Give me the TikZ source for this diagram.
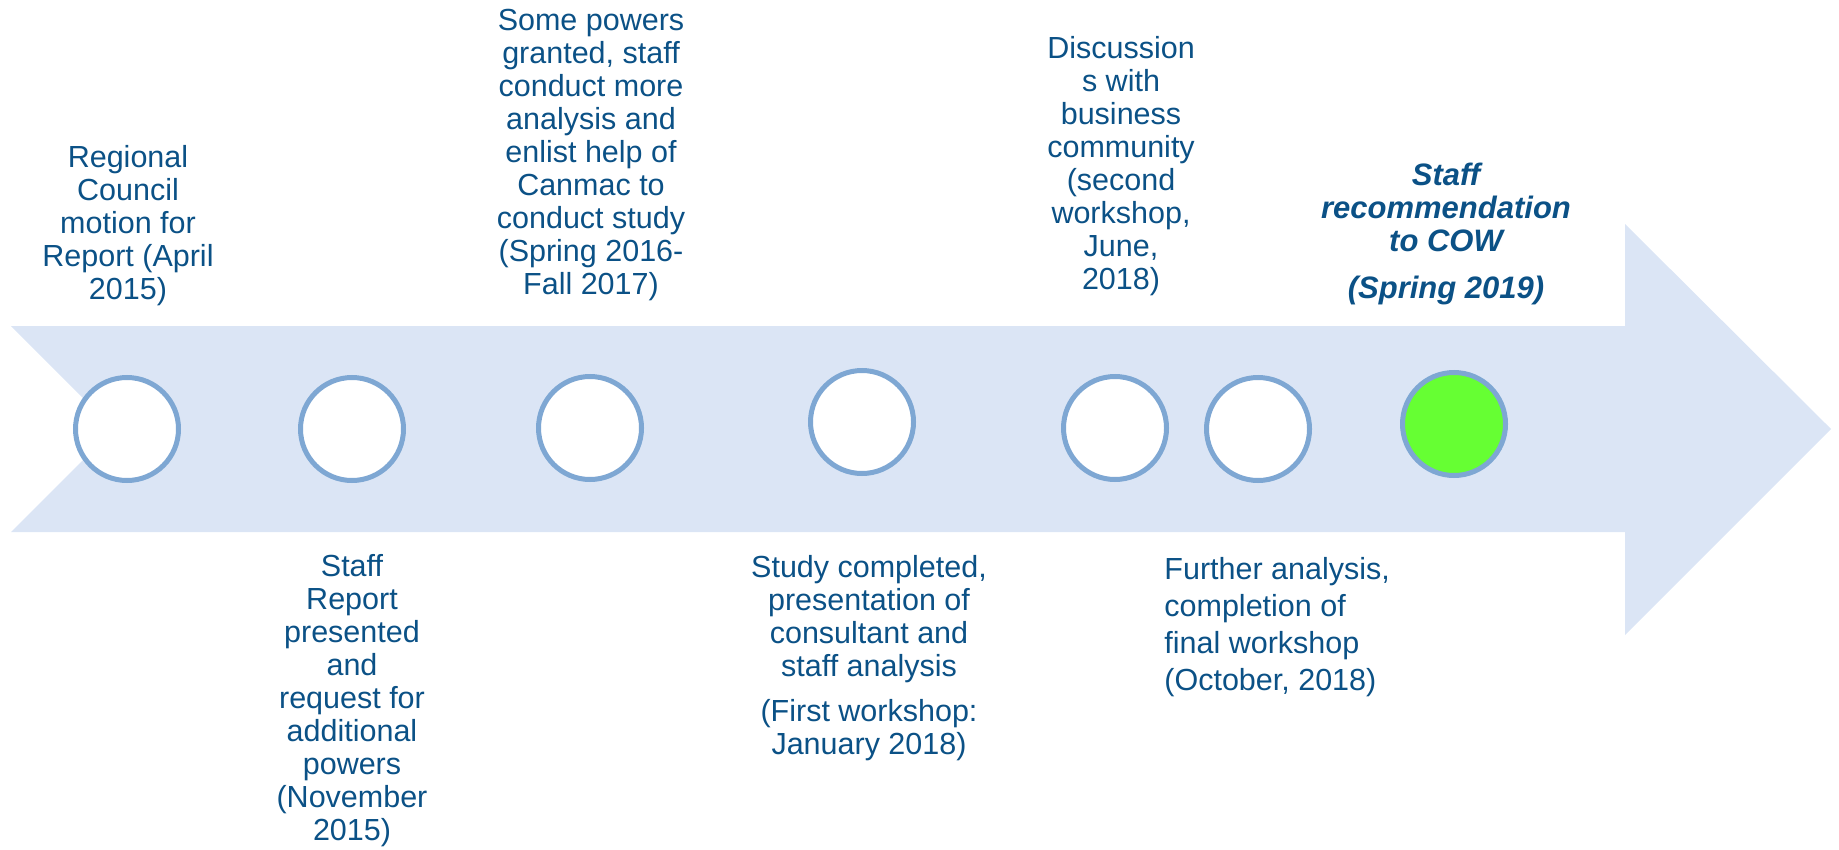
\documentclass[tikz,border=0pt]{standalone}
\usepackage{fontspec}
\setmainfont{Liberation Sans}
\definecolor{bandfill}{RGB}{219,229,245}
\definecolor{ringblue}{RGB}{126,167,211}
\definecolor{textblue}{RGB}{11,81,134}
\definecolor{donegreen}{RGB}{102,255,51}
\begin{document}
\begin{tikzpicture}[x=0.5pt,y=-0.5pt,
    milestone/.style={circle,draw=ringblue,line width=2.5pt,fill=white,minimum size=51.5pt,inner sep=0pt},
    note/.style={text=textblue,align=center,inner sep=0pt,anchor=north,font=\fontsize{15.25}{16.5}\selectfont}]
  \useasboundingbox (0,0) rectangle (1839,850);
  \fill[bandfill] (11,326) -- (1625,326) -- (1625,224) -- (1831,429) -- (1625,635)
    -- (1625,532) -- (11,532) -- (114,429) -- cycle;
  \node[milestone] (m1) at (127,429) {};
  \node[milestone] (m2) at (352,429) {};
  \node[milestone] (m3) at (590,428) {};
  \node[milestone] (m4) at (862,422) {};
  \node[milestone] (m5) at (1115,428) {};
  \node[milestone] (m6) at (1258,429) {};
  \node[milestone,fill=donegreen] (m7) at (1454,424) {};
  \node[note] (t1) at (128,145) {Regional\\Council\\motion for\\Report (April\\2015)};
  \node[note] (t2) at (352,554) {Staff\\Report\\presented\\and\\request for\\additional\\powers\\(November\\2015)};
  \node[note] (t3) at (591,9) {Some powers\\granted, staff\\conduct more\\analysis and\\enlist help of\\Canmac to\\conduct study\\(Spring 2016-\\Fall 2017)};
  \node[note] (t4) at (869,555) {Study completed,\\presentation of\\consultant and\\staff analysis\\[6pt](First workshop:\\January 2018)};
  \node[note] (t5) at (1121,36) {Discussion\\s with\\business\\community\\(second\\workshop,\\June,\\2018)};
  \node[note,anchor=north west,align=left,font=\fontsize{15.25}{18.5}\selectfont] (t6) at (1164,557)
    {Further analysis,\\completion of\\final workshop\\(October, 2018)};
  \node[note,font=\fontsize{15.5}{16.5}\selectfont\bfseries\itshape] (t7) at (1446,163)
    {Staff\\recommendation\\to COW\\[7pt](Spring 2019)};
\end{tikzpicture}
\end{document}
